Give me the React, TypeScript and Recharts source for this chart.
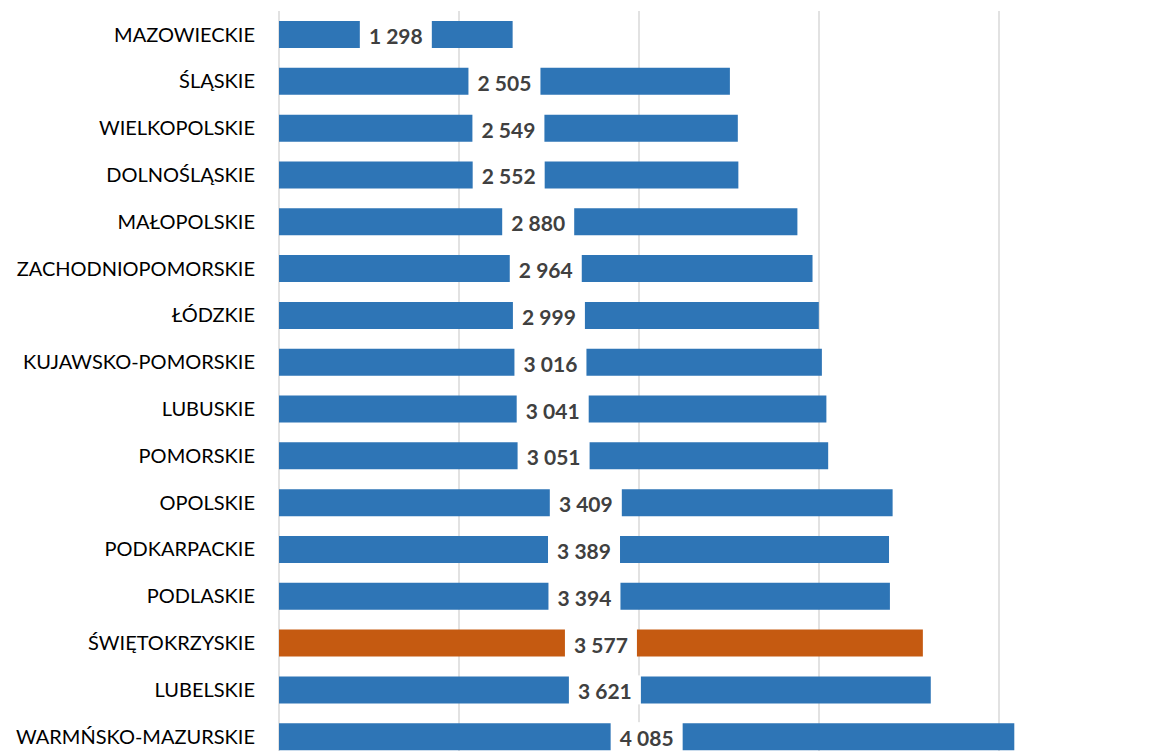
import { FC } from "react";
import { Bar, BarChart, CartesianGrid, Cell, LabelList, XAxis, YAxis } from "recharts";

const regions = [
  "MAZOWIECKIE",
  "ŚLĄSKIE",
  "WIELKOPOLSKIE",
  "DOLNOŚLĄSKIE",
  "MAŁOPOLSKIE",
  "ZACHODNIOPOMORSKIE",
  "ŁÓDZKIE",
  "KUJAWSKO-POMORSKIE",
  "LUBUSKIE",
  "POMORSKIE",
  "OPOLSKIE",
  "PODKARPACKIE",
  "PODLASKIE",
  "ŚWIĘTOKRZYSKIE",
  "LUBELSKIE",
  "WARMŃSKO-MAZURSKIE",
];

const values = [
  1298, 2505, 2549, 2552, 2880, 2964, 2999, 3016, 3041, 3051, 3409, 3389, 3394, 3577, 3621, 4085,
];

const xTicks = [0, 1000, 2000, 3000, 4000, 5000];

const HIGHLIGHT = "ŚWIĘTOKRZYSKIE";
const BLUE = "#2E75B6";
const ORANGE = "#C55A11";
const FONT = "Lato, 'Open Sans', sans-serif";

const data = regions.map((name, i) => ({ name, value: values[i] }));

const fmt = (v: number) => String(v).replace(/\B(?=(\d{3})+(?!\d))/g, " ");

const ValueLabel = (props: any) => {
  const { x, y, width, height, value } = props;
  const text = fmt(Number(value));
  const boxW = text.length * 10 + 22;
  const cx = x + width / 2;
  const cy = y + height / 2;
  return (
    <g>
      <rect x={cx - boxW / 2} y={y - 1} width={boxW} height={height + 2} fill="#fff" />
      <text
        x={cx}
        y={cy + 1}
        textAnchor="middle"
        dominantBaseline="central"
        fontFamily={FONT}
        fontSize={21}
        fontWeight={700}
        fill="#404040"
      >
        {text}
      </text>
    </g>
  );
};

const App: FC = () => {
  return (
    <div
      style={{
        position: "absolute",
        left: 0,
        top: 0,
        width: 1170,
        height: 751,
        overflow: "hidden",
        background: "#fff",
      }}
    >
      <BarChart
        width={1190}
        height={760}
        data={data}
        layout="vertical"
        margin={{ top: 11, right: 11, left: 0, bottom: 0 }}
        barSize={27}
      >
        <CartesianGrid horizontal={false} stroke="#D9D9D9" strokeWidth={1.5} />
        <XAxis type="number" domain={[0, 5000]} ticks={xTicks} hide />
        <YAxis
          type="category"
          dataKey="name"
          width={279}
          axisLine={false}
          tickLine={false}
          tickSize={0}
          tickMargin={24}
          interval={0}
          tick={{ fontFamily: FONT, fontSize: 20, fill: "#000" }}
        />
        <Bar dataKey="value" isAnimationActive={false}>
          {data.map((d) => (
            <Cell key={d.name} fill={d.name === HIGHLIGHT ? ORANGE : BLUE} />
          ))}
          <LabelList dataKey="value" content={ValueLabel} />
        </Bar>
      </BarChart>
    </div>
  );
};

export default App;
